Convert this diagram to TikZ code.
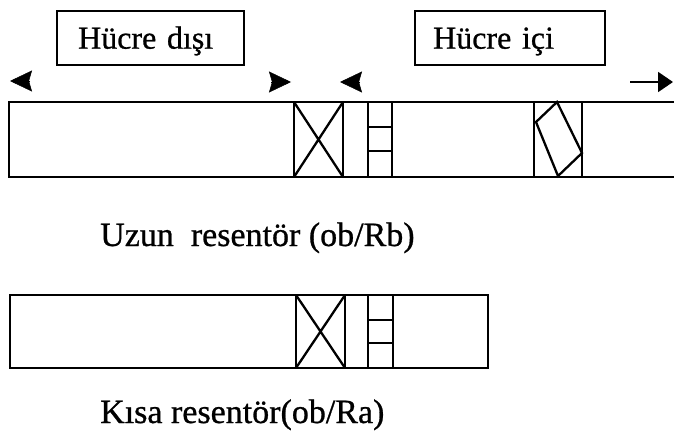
\documentclass[tikz,border=0pt]{standalone}
\usepackage{fontspec}
\setmainfont{Liberation Serif}
\newfontfamily\scanfont[FakeBold=0.8]{Liberation Serif}
\usetikzlibrary{arrows.meta}
\tikzset{
  outer/.style={line width=2.8pt, line join=miter},
  inner/.style={line width=2.3pt},
  labelbox/.style={draw, line width=2.3pt, font=\scanfont\fontsize{32}{36}\selectfont,
    align=left, text height=21pt, text depth=0pt, inner ysep=16.5pt, anchor=north west},
  caption/.style={font=\scanfont\fontsize{34}{38}\selectfont, anchor=base west, inner sep=0pt},
  headonly/.style={-{Stealth[length=22pt, width=21pt, inset=3pt]}, line width=0.5pt},
  arrowline/.style={-{Triangle[length=15pt, width=20pt]}, line width=2pt}
}
\begin{document}
\begin{tikzpicture}[x=1pt, y=-1pt]
\useasboundingbox (0,0) rectangle (674,436);
% label boxes
\node[labelbox, inner xsep=21pt, text width=145pt] (dis) at (56,10) {Hücre dışı};
\node[labelbox, inner xsep=18pt, text width=154pt] (ic) at (414,10) {Hücre içi};
% arrowheads
\coordinate (a1s) at (30,81); \coordinate (a1e) at (10,81);
\coordinate (a2s) at (271,82); \coordinate (a2e) at (291,82);
\coordinate (a3s) at (360,82); \coordinate (a3e) at (340,82);
\coordinate (a4s) at (630,82); \coordinate (a4e) at (673,82);
\draw[headonly] (a1s) -- (a1e);
\draw[headonly] (a2s) -- (a2e);
\draw[headonly] (a3s) -- (a3e);
\draw[arrowline] (a4s) -- (a4e);
% long receptor
\draw[outer] (674,102) -- (9,102) -- (9,177) -- (674,177);
\draw[inner] (294,102) rectangle (343,177);
\draw[inner] (294,102) -- (343,177) (343,102) -- (294,177);
\draw[inner] (368,102) rectangle (392,177);
\draw[inner] (368,127) -- (392,127) (368,151) -- (392,151);
\draw[inner] (534,102) -- (534,177) (582,102) -- (582,177);
\draw[inner, line join=miter] (557,102) -- (582,153) -- (558,176) -- (536,122) -- cycle;
\node[caption] (uzun) at (100,246) {Uzun\ \ resentör (ob/Rb)};
% short receptor
\draw[outer] (10,295) rectangle (488,368);
\draw[inner] (296,295) rectangle (345,368);
\draw[inner] (296,295) -- (345,368) (345,295) -- (296,368);
\draw[inner] (368,295) rectangle (393,368);
\draw[inner] (368,320) -- (393,320) (368,343) -- (393,343);
\node[caption] (kisa) at (100,423) {Kısa resentör(ob/Ra)};
\end{tikzpicture}
\end{document}
